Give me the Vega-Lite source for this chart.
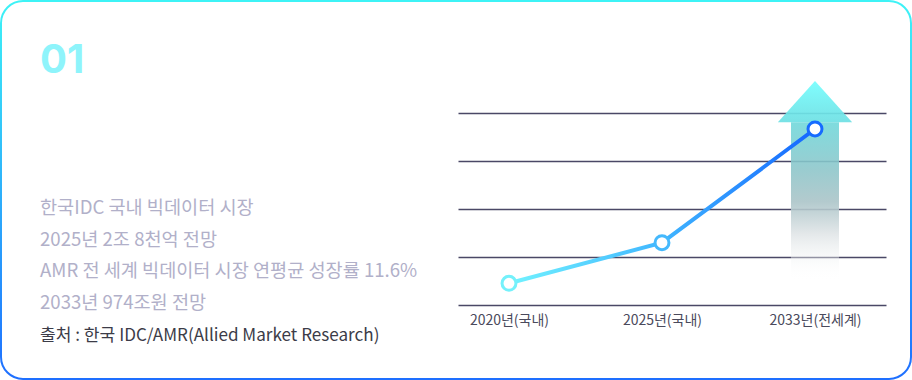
{
  "$schema": "https://vega.github.io/schema/vega-lite/v6.json",
  "width": 912,
  "height": 380,
  "autosize": {"type": "fit", "contains": "padding"},
  "padding": 1,
  "background": "white",
  "config": {
    "view": {
      "stroke": {"gradient": "linear", "x1": 0, "y1": 0, "x2": 0, "y2": 1, "stops": [{"offset": 0, "color": "#3ef3f6"}, {"offset": 1, "color": "#1e6fff"}]},
      "strokeWidth": 2,
      "cornerRadius": 22,
      "fill": "white"
    },
    "font": "Noto Sans CJK KR"
  },
  "datasets": {
    "growth": [
      {"year": "2020년(국내)", "value": 0.452},
      {"year": "2025년(국내)", "value": 1.298},
      {"year": "2033년(전세계)", "value": 3.667}
    ],
    "notes": [
      {"line": 1, "text": "한국IDC 국내 빅데이터 시장"},
      {"line": 2, "text": "2025년 2조 8천억 전망"},
      {"line": 3, "text": "AMR 전 세계 빅데이터 시장 연평균 성장률 11.6%"},
      {"line": 4, "text": "2033년 974조원 전망"}
    ],
    "source": [
      {"line": 5, "text": "출처 : 한국 IDC/AMR(Allied Market Research)"}
    ],
    "badge": [
      {"label": "01"}
    ]
  },
  "layer": [
    {
      "data": {"name": "growth"},
      "encoding": {
        "x": {
          "field": "year",
          "type": "ordinal",
          "sort": null,
          "scale": {"type": "point", "domain": ["2020년(국내)", "2025년(국내)", "2033년(전세계)"], "range": [457, 885], "padding": 0.3987, "align": 0.418},
          "axis": {"title": null, "domain": false, "ticks": false, "grid": false, "labelAngle": 0, "labelPadding": 8, "offset": -74, "labelFontSize": 14, "labelColor": "#4a4a5c", "labelFont": "Noto Sans CJK KR"}
        },
        "y": {
          "field": "value",
          "type": "quantitative",
          "scale": {"domain": [0, 4], "range": [304, 112], "nice": false, "zero": false},
          "axis": {"title": null, "domain": false, "ticks": false, "labels": false, "grid": true, "values": [0, 1, 2, 3, 4], "gridColor": "#4a4866", "gridWidth": 1.4}
        }
      },
      "layer": [
        {
          "transform": [{"filter": "datum.year === '2033년(전세계)'"}],
          "mark": {
            "type": "bar",
            "width": 48,
            "opacity": 0.88,
            "fill": {"gradient": "linear", "x1": 0, "y1": 0, "x2": 0, "y2": 1, "stops": [
              {"offset": 0, "color": "#6dd7da"},
              {"offset": 0.3, "color": "#8cc5c9"},
              {"offset": 0.5, "color": "#a9c3c7"},
              {"offset": 0.7, "color": "#dfe4e6"},
              {"offset": 1, "color": "rgba(255,255,255,0)"}
            ]}
          },
          "encoding": {
            "y": {"datum": 0.5, "type": "quantitative"},
            "y2": {"datum": 3.806}
          }
        },
        {
          "transform": [{"filter": "datum.year === '2033년(전세계)'"}],
          "mark": {
            "type": "point",
            "shape": "M0,-1.112L1,0L-1,0Z",
            "size": 5520,
            "filled": true,
            "opacity": 0.92,
            "strokeWidth": 0,
            "fill": {"gradient": "linear", "x1": 0, "y1": 0, "x2": 0, "y2": 1, "stops": [
              {"offset": 0, "color": "#74fefe"},
              {"offset": 1, "color": "#6ddfe3"}
            ]}
          },
          "encoding": {
            "y": {"datum": 3.806, "type": "quantitative"}
          }
        },
        {
          "mark": {
            "type": "line",
            "strokeWidth": 4,
            "stroke": {"gradient": "linear", "x1": 0, "y1": 0, "x2": 1, "y2": 0, "stops": [
              {"offset": 0, "color": "#72f3ff"},
              {"offset": 0.5, "color": "#40b6ff"},
              {"offset": 1, "color": "#1466ff"}
            ]}
          }
        },
        {
          "mark": {"type": "point", "fill": "white", "filled": false, "size": 194, "strokeWidth": 3, "opacity": 1},
          "encoding": {
            "stroke": {
              "field": "year",
              "type": "nominal",
              "scale": {"domain": ["2020년(국내)", "2025년(국내)", "2033년(전세계)"], "range": ["#74f1fb", "#45b9fd", "#166bff"]},
              "legend": null
            }
          }
        }
      ]
    },
    {
      "layer": [
        {
          "data": {"name": "badge"},
          "mark": {"type": "text", "font": "Inter", "fontWeight": 700, "fontSize": 40, "color": "#8ef4fb", "align": "left", "baseline": "alphabetic"},
          "encoding": {
            "text": {"field": "label"},
            "x": {"datum": 0, "type": "quantitative", "scale": {"domain": [-1, 22.333], "nice": false, "zero": false}, "axis": null},
            "y": {"datum": -3.432, "type": "quantitative", "scale": {"domain": [-5.709, 6.197], "reverse": true, "nice": false, "zero": false}, "axis": null}
          }
        },
        {
          "data": {"name": "notes"},
          "mark": {"type": "text", "fontSize": 18.6, "color": "#b1b0c9", "align": "left", "baseline": "alphabetic"},
          "encoding": {
            "text": {"field": "text"},
            "x": {"datum": 0, "type": "quantitative", "axis": null},
            "y": {"field": "line", "type": "quantitative", "axis": null}
          }
        },
        {
          "data": {"name": "source"},
          "mark": {"type": "text", "fontSize": 17.1, "color": "#3c3c48", "align": "left", "baseline": "alphabetic"},
          "encoding": {
            "text": {"field": "text"},
            "x": {"datum": 0, "type": "quantitative", "axis": null},
            "y": {"field": "line", "type": "quantitative", "axis": null}
          }
        }
      ]
    }
  ],
  "resolve": {"scale": {"x": "independent", "y": "independent"}}
}
